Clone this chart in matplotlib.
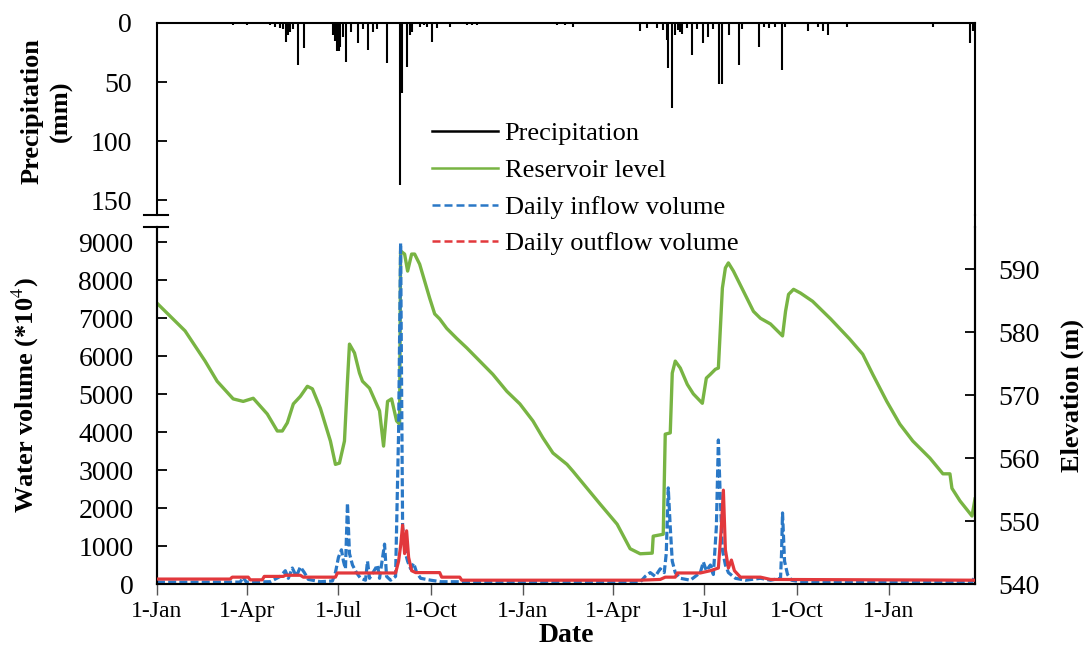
import datetime as dt
import matplotlib
matplotlib.use("Agg")
import matplotlib.pyplot as plt
import matplotlib.dates as mdates
from matplotlib.lines import Line2D

plt.rcParams['font.family'] = ['Liberation Serif', 'DejaVu Serif']
plt.rcParams['mathtext.fontset'] = 'stix'

START = dt.date(2013, 1, 1)
END_DAY = 816

# Reservoir level (m): day offset from START, elevation
LEVEL_DAY = [0, 28, 48, 60, 76, 86, 96, 110, 120, 125, 130, 136, 143, 150, 155, 163, 173, 178, 182,
             187, 190, 192, 197, 202, 205, 212, 222, 226, 230, 234, 239, 242, 243, 247, 250, 254, 257,
             262, 267, 272, 277, 282, 289, 299, 309, 322, 335, 349, 362, 375, 385, 395, 409, 415, 429,
             442, 459, 472, 482, 494, 495, 505, 507, 512, 514, 517, 522, 529, 535, 544, 548, 552, 557,
             560, 564, 567, 570, 575, 585, 595, 602, 612, 624, 627, 630, 635, 642, 654, 672, 691, 704,
             714, 728, 741, 754, 771, 784, 791, 793, 801, 813, 816]
LEVEL_M = [584.6, 580.2, 575.4, 572.2, 569.4, 569.0, 569.5, 567.0, 564.3, 564.3, 565.6, 568.6, 569.8,
           571.4, 571.0, 567.9, 562.7, 559.0, 559.2, 562.7, 572.2, 578.1, 576.7, 573.5, 572.2, 571.1,
           567.5, 561.9, 569.0, 569.4, 565.9, 565.4, 592.9, 592.4, 589.7, 592.4, 592.4, 590.8, 588.1,
           585.4, 582.9, 582.1, 580.6, 579.0, 577.5, 575.4, 573.3, 570.6, 568.6, 565.9, 563.2, 560.8,
           559.0, 557.9, 555.2, 552.7, 549.5, 545.6, 544.8, 544.9, 547.6, 547.9, 563.8, 564.0, 573.5,
           575.4, 574.3, 571.7, 570.2, 568.7, 572.7, 573.3, 574.1, 574.3, 587.0, 590.2, 591.0, 589.7,
           586.5, 583.3, 582.2, 581.3, 579.4, 583.3, 586.0, 586.8, 586.2, 584.9, 582.1, 578.9, 576.5,
           573.3, 569.0, 565.4, 562.7, 560.0, 557.5, 557.5, 555.2, 553.2, 550.8, 553.5]

# Daily inflow volume (*10^4 m3)
IN_DAY = [0, 83, 86, 89, 113, 123, 128, 131, 135, 139, 143, 147, 151, 163, 175, 178, 181, 184, 186,
          188, 190, 192, 195, 199, 203, 208, 210, 212, 220, 222, 227, 229, 233, 238, 241, 243, 245,
          248, 250, 253, 256, 259, 263, 273, 283, 482, 487, 492, 497, 502, 506, 508, 510, 512, 514,
          517, 522, 532, 542, 545, 548, 552, 555, 558, 560, 562, 564, 567, 570, 577, 587, 602, 612,
          622, 623, 624, 626, 629, 633, 641, 813, 816]
IN_VOL = [50, 50, 180, 50, 60, 200, 350, 150, 420, 200, 450, 300, 120, 60, 80, 300, 700, 900, 600,
          400, 2130, 800, 500, 300, 150, 100, 600, 150, 500, 150, 1050, 200, 100, 200, 4000, 8970, 1500,
          800, 600, 400, 550, 300, 150, 100, 60, 50, 200, 300, 200, 400, 300, 800, 2530, 1500, 600,
          300, 150, 100, 300, 580, 350, 500, 250, 1500, 3790, 2200, 900, 500, 300, 150, 100, 150, 100,
          150, 800, 1870, 600, 250, 100, 60, 60, 200]

# Daily outflow volume (*10^4 m3)
OUT_DAY = [0, 73, 75, 91, 93, 105, 107, 126, 128, 143, 146, 178, 180, 238, 241, 243, 245, 247, 249,
           251, 254, 258, 282, 284, 302, 304, 482, 502, 507, 517, 519, 542, 552, 560, 563, 565, 567,
           570, 573, 576, 582, 602, 612, 816]
OUT_VOL = [130, 130, 180, 180, 110, 110, 200, 200, 230, 230, 180, 180, 290, 290, 600, 1000, 1550, 800,
           1400, 700, 350, 300, 300, 180, 180, 100, 100, 120, 180, 180, 290, 290, 350, 420, 1500, 2470,
           900, 420, 630, 350, 180, 180, 120, 100]

# Daily precipitation (mm)
P_DAY = [70, 76, 83, 90, 113, 118, 123, 126, 129, 131, 133, 136, 141, 147, 176, 178, 180, 182, 183, 186,
         189, 194, 201, 205, 210, 215, 219, 229, 242, 244, 249, 252, 254, 262, 266, 269, 274, 279, 292,
         309, 314, 319, 399, 407, 415, 482, 489, 499, 505, 509, 510, 514, 517, 520, 522, 524, 529, 534,
         539, 545, 550, 555, 561, 564, 571, 581, 584, 601, 606, 611, 616, 623, 626, 649, 659, 664, 669,
         688, 774, 811, 814]
P_MM = [1, 2, 1, 2, 2, 3, 4, 5, 16, 10, 8, 5, 36, 21, 10, 15, 24, 24, 20, 12, 33, 8, 17, 5, 23, 8, 5, 34,
        137, 59, 37, 10, 8, 3, 2, 3, 16, 4, 3, 2, 2, 2, 2, 2, 3, 7, 4, 4, 6, 14, 38, 72, 10, 6, 8, 9, 4,
        27, 5, 17, 12, 5, 52, 52, 10, 36, 5, 20, 3, 4, 3, 40, 3, 7, 3, 7, 10, 3, 3, 17, 7]

LEGEND_LABELS = ['Precipitation', 'Reservoir level', 'Daily inflow volume', 'Daily outflow volume']
C_GREEN = '#78B443'
C_BLUE = '#2A78C6'
C_RED = '#E2383C'


def to_dates(days):
    return [START + dt.timedelta(days=int(d)) for d in days]


W, H = 1086, 648
fig = plt.figure(figsize=(W / 100, H / 100), dpi=100)
L, R = 157, 975
ax_top = fig.add_axes([L / W, 1 - 215 / H, (R - L) / W, (215 - 23) / H])
ax = fig.add_axes([L / W, 1 - 584 / H, (R - L) / W, (584 - 227) / H])
ax2 = ax.twinx()

x0 = START
x1 = START + dt.timedelta(days=END_DAY)

# precipitation
ax_top.vlines(to_dates(P_DAY), 0, P_MM, color='black', lw=1.5)
ax_top.set_ylim(162.7, 0)
ax_top.set_xlim(x0, x1)
ax_top.set_yticks([0, 50, 100, 150])
ax_top.tick_params(axis='y', direction='in', length=7, width=1.3, labelsize=20, pad=18)
ax_top.set_xticks([])
ax_top.spines['bottom'].set_visible(False)
for s in ['top', 'left', 'right']:
    ax_top.spines[s].set_linewidth(1.5)

# volumes and level
ax2.plot(to_dates(LEVEL_DAY), LEVEL_M, color=C_GREEN, lw=2.4, zorder=1)
ax.plot(to_dates(IN_DAY), IN_VOL, color=C_BLUE, lw=2.3, dashes=(2.5, 1.0), zorder=2)
ax.plot(to_dates(OUT_DAY), OUT_VOL, color=C_RED, lw=2.3, zorder=3)
ax.set_zorder(ax2.get_zorder() + 1)
ax.patch.set_visible(False)

ax.set_xlim(x0, x1)
ax.set_ylim(0, 9395)
ax.set_yticks(range(0, 9001, 1000))
ax2.set_ylim(540, 596.7)
ax2.set_yticks([540, 550, 560, 570, 580, 590])

ax.xaxis.set_major_locator(mdates.MonthLocator(bymonth=[1, 4, 7, 10]))
ax.xaxis.set_major_formatter(mdates.DateFormatter('%-d-%b'))
ax.tick_params(axis='x', direction='out', length=8, width=1.0, labelsize=17, pad=4, color='#555555')
ax.tick_params(axis='y', direction='in', length=7, width=1.3, labelsize=20, pad=17)
ax2.tick_params(axis='y', direction='in', length=7, width=1.3, labelsize=20, pad=17)
for a in (ax, ax2):
    a.spines['top'].set_visible(False)
    for s in ['bottom', 'left', 'right']:
        a.spines[s].set_linewidth(1.5)

# right spine bridging the gap, and axis break marks on the left
fig.add_artist(Line2D([R / W, R / W], [1 - 215 / H, 1 - 227 / H], color='black', lw=1.5))
for yb in (215, 227):
    fig.add_artist(Line2D([144 / W, 168 / W], [1 - yb / H, 1 - yb / H], color='black', lw=1.5))

# labels
fig.text(47 / W, 1 - 111 / H, 'Precipitation\n(mm)', rotation=90, ha='center', va='center',
         fontsize=19, fontweight='bold', linespacing=1.35)
fig.text(25 / W, 1 - 395 / H, 'Water volume (*10$^{4}$)', rotation=90, ha='center', va='center',
         fontsize=19, fontweight='bold')
fig.text(1072 / W, 1 - 395 / H, 'Elevation (m)', rotation=90, ha='center', va='center',
         fontsize=19, fontweight='bold')
fig.text(566 / W, 1 - 635 / H, 'Date', ha='center', va='center', fontsize=20, fontweight='bold')

handles = [
    Line2D([], [], color='black', lw=1.8),
    Line2D([], [], color=C_GREEN, lw=1.8),
    Line2D([], [], color=C_BLUE, lw=1.8, dashes=(3.2, 1.6)),
    Line2D([], [], color=C_RED, lw=1.8, dashes=(3.2, 1.6)),
]
fig.legend(handles, LEGEND_LABELS, loc='upper left', bbox_to_anchor=(432 / W, 1 - 122 / H),
           frameon=False, fontsize=19, handlelength=2.5, handletextpad=0.25, labelspacing=0.5,
           borderpad=0, borderaxespad=0)

fig.savefig('out.png', dpi=100)
